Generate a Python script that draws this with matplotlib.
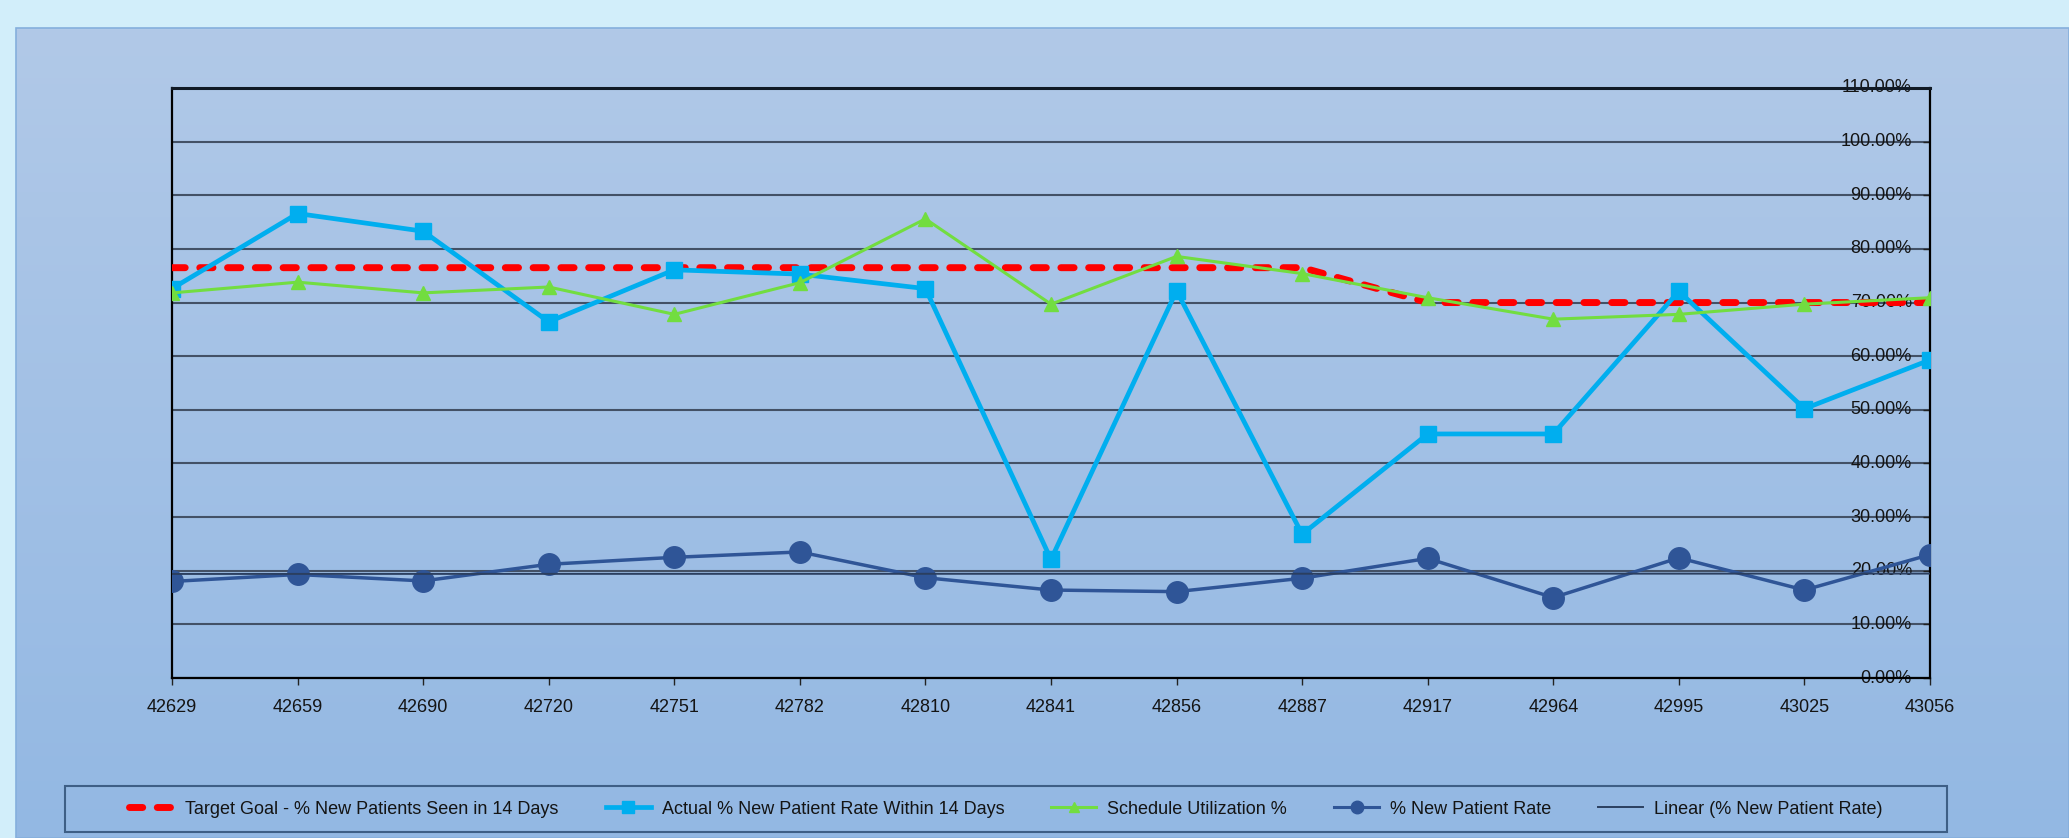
import numpy as np
import matplotlib
matplotlib.use("Agg")
from matplotlib import pyplot as plt
from matplotlib.colors import LinearSegmentedColormap
from matplotlib.lines import Line2D
from matplotlib.patches import Rectangle
from matplotlib.ticker import PercentFormatter

plt.rcParams['font.family'] = ['Liberation Sans', 'DejaVu Sans']

# Месяцы (серийные номера дат Excel) и значения рядов
dates = [42629, 42659, 42690, 42720, 42751, 42782, 42810, 42841,
         42856, 42887, 42917, 42964, 42995, 43025, 43056]
target_goal = [0.765, 0.765, 0.765, 0.765, 0.765, 0.765, 0.765, 0.765,
               0.765, 0.765, 0.70, 0.70, 0.70, 0.70, 0.70]
actual_rate = [0.726, 0.866, 0.833, 0.664, 0.761, 0.753, 0.726, 0.221,
               0.722, 0.268, 0.455, 0.455, 0.721, 0.502, 0.593]
schedule_util = [0.718, 0.738, 0.718, 0.729, 0.678, 0.737, 0.856, 0.697,
                 0.786, 0.754, 0.709, 0.669, 0.678, 0.697, 0.709]
new_patient_rate = [0.180, 0.193, 0.181, 0.212, 0.225, 0.235, 0.187, 0.164,
                    0.161, 0.186, 0.223, 0.150, 0.224, 0.164, 0.230]
y_ticks = [i / 10 for i in range(12)]

legend_labels = ["Target Goal - % New Patients Seen in 14 Days",
                 "Actual % New Patient Rate Within 14 Days",
                 "Schedule Utilization %",
                 "% New Patient Rate",
                 "Linear (% New Patient Rate)"]

RED = '#ff0000'
CYAN = '#00aeef'
GREEN = '#72dd40'
NAVY = '#2f5597'
TREND = '#2b3f60'
GRID = '#435166'
FONT_SIZE = 13

W, H = 2069, 838
fig = plt.figure(figsize=(W / 100, H / 100), dpi=100)
fig.patch.set_facecolor('#d2eefa')

# Фон панели с вертикальным градиентом
bg = fig.add_axes([16 / W, 0, (W - 16) / W, (H - 28) / H], zorder=0)
cmap = LinearSegmentedColormap.from_list('panel', ['#93b8e3', '#b1c9e8'])
bg.imshow(np.linspace(0, 1, 256).reshape(-1, 1), cmap=cmap, aspect='auto',
          extent=[0, 1, 0, 1], origin='lower')
bg.set_xlim(0, 1)
bg.set_ylim(0, 1)
bg.axis('off')
bg.add_patch(Rectangle((0, 0), 1, 1, transform=bg.transAxes, fill=False,
                       edgecolor='#85afdc', lw=1.2, clip_on=False))

ax = fig.add_axes([172 / W, (H - 678) / H, (1930 - 172) / W, (678 - 88) / H], zorder=1)
ax.set_facecolor('none')
x = np.arange(len(dates))

# Ряды в порядке Excel: последний рисуется сверху
ax.plot(x, target_goal, color=RED, lw=5, linestyle=(0, (1.9, 2.1)),
        dash_capstyle='round', zorder=3)
ax.plot(x, actual_rate, color=CYAN, lw=3.4, marker='s', ms=11.5, zorder=4)
ax.plot(x, schedule_util, color=GREEN, lw=2.2, marker='^', ms=10, zorder=5)
ax.plot(x, new_patient_rate, color=NAVY, lw=2.5, marker='o', ms=15.5, zorder=6)

# Линейный тренд по % New Patient Rate
k, b = np.polyfit(x, new_patient_rate, 1)
ax.plot(x, k * x + b, color=TREND, lw=1.4, zorder=7)

ax.set_xlim(0, len(dates) - 1)
ax.set_ylim(0, 1.10)
ax.set_yticks(y_ticks)
ax.yaxis.set_major_formatter(PercentFormatter(1.0, decimals=2))
ax.set_xticks(x)
ax.set_xticklabels([str(d) for d in dates])
ax.grid(axis='y', color=GRID, lw=1.5, zorder=1)
ax.set_axisbelow(True)

for side in ['left', 'bottom', 'right']:
    ax.spines[side].set_linewidth(1.6)
    ax.spines[side].set_color('black')
ax.spines['top'].set_linewidth(2.2)
ax.spines['top'].set_color('#111a26')

ax.tick_params(axis='x', direction='out', length=5, width=1, color='#222222',
               labelsize=FONT_SIZE, labelcolor='#141414', pad=10)
ax.tick_params(axis='y', left=False, labelleft=False, right=True, labelright=True,
               direction='in', length=5, width=1, color='#222222',
               labelsize=FONT_SIZE, labelcolor='#141414', pad=-13)
plt.setp(ax.get_yticklabels(), ha='right', va='center')

# Легенда в одну строку внизу
handles = [
    Line2D([], [], color=RED, lw=5, linestyle=(0, (1.9, 2.1)), dash_capstyle='round'),
    Line2D([], [], color=CYAN, lw=3.4, marker='s', ms=9),
    Line2D([], [], color=GREEN, lw=2.2, marker='^', ms=7),
    Line2D([], [], color=NAVY, lw=2.2, marker='o', ms=9),
    Line2D([], [], color=TREND, lw=1.4),
]
fig.patches.append(Rectangle((65 / W, (H - 832) / H), (1947 - 65) / W, 46 / H,
                             transform=fig.transFigure, fill=False,
                             edgecolor='#3e5f86', lw=1.5))
fig.legend(handles, legend_labels, loc='center', bbox_to_anchor=(1006 / W, (H - 809) / H),
           ncol=5, frameon=False, fontsize=FONT_SIZE, handlelength=2.5, handletextpad=0.6,
           columnspacing=2.6, labelcolor='#141414')

fig.savefig('out.png', dpi=100, facecolor=fig.get_facecolor())
